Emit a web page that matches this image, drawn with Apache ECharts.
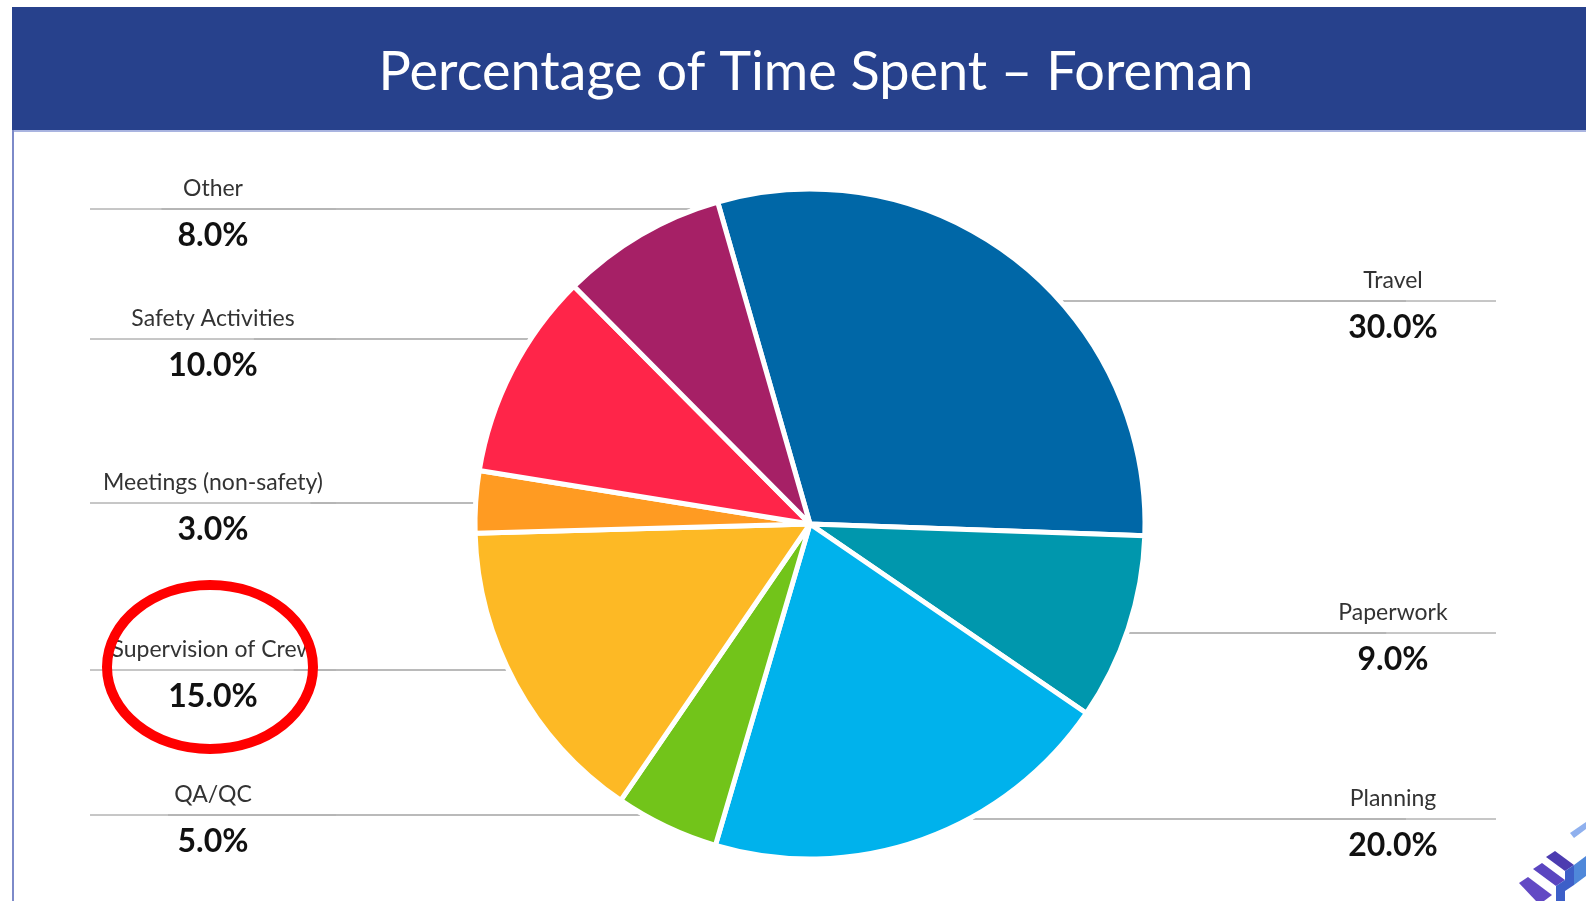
<!DOCTYPE html>
<html>
<head>
<meta charset="utf-8">
<title>Percentage of Time Spent – Foreman</title>
<script src="https://cdn.jsdelivr.net/npm/echarts@6/dist/echarts.min.js"></script>
<style>
  html, body { margin: 0; padding: 0; background: #fff; }
  #chart { width: 1586px; height: 901px; }
</style>
</head>
<body>
<div id="chart"></div>
<script>
// data
const categories = ['Travel', 'Paperwork', 'Planning', 'QA/QC', 'Supervision of Crew',
  'Meetings (non-safety)', 'Safety Activities', 'Other']
const values = [30, 9, 20, 5, 15, 3, 10, 8]
const colors = ['#0067a7', '#0097ad', '#00b2ec', '#72c41a', '#fdb925', '#ff9b22', '#ff2549', '#a62066']

// layout of the pie and label rows (y of each label's rule line)
const CX = 810
const CY = 524
const R = 335
const labelRowY = [301, 633, 819, 815, 670, 503, 339, 209]

const chart = echarts.init(document.getElementById('chart'))

const pieData = categories.map((name, i) => ({ name, value: values[i] }))

// leader line: horizontal from the label to just outside the slice
function leaderLine(params) {
  const i = params.dataIndex
  const y = labelRowY[i]
  const rect = params.labelRect
  const right = rect.x + rect.width / 2 > CX
  const dy = Math.min(Math.abs(y - CY), R)
  const outer = Math.sqrt(Math.max((R + 7) ** 2 - dy * dy, 0))
  const inner = Math.sqrt(Math.max((R + 2) ** 2 - dy * dy, 0))
  const sign = right ? 1 : -1
  const anchor = right ? rect.x : rect.x + rect.width
  return {
    y: y - 40,
    verticalAlign: 'top',
    width: right ? 206 : 246,
    labelLinePoints: [
      [CX + sign * inner, y],
      [CX + sign * outer, y],
      [anchor, y]
    ]
  }
}

const option = {
  backgroundColor: '#fff',
  title: {
    text: 'Percentage of Time Spent – Foreman',
    left: 811,
    top: 68,
    textAlign: 'center',
    textVerticalAlign: 'middle',
    textStyle: {
      color: '#fff',
      fontSize: 54,
      fontWeight: 'normal',
      fontFamily: 'Lato'
    },
    z: 10
  },
  graphic: [
    // banner
    {
      type: 'rect',
      shape: { x: 12, y: 7, width: 1574, height: 123 },
      style: { fill: '#27418c' },
      z: 0
    },
    {
      type: 'rect',
      shape: { x: 12, y: 130, width: 1574, height: 2 },
      style: { fill: '#a9b4e0' },
      z: 0
    },
    // left border
    {
      type: 'rect',
      shape: { x: 12, y: 130, width: 2, height: 771 },
      style: { fill: '#7d8ac9' },
      z: 0
    },
    // red annotation ring
    {
      type: 'ellipse',
      shape: { cx: 210, cy: 667, rx: 103, ry: 82 },
      style: { fill: null, stroke: '#ff0000', lineWidth: 10 },
      z: 100
    },
    // logo corner
    {
      type: 'group',
      z: 100,
      children: [
        { type: 'polygon', shape: { points: [[1570, 833], [1586, 822], [1586, 829], [1574, 838]] }, style: { fill: '#8fb0ee' } },
        { type: 'polygon', shape: { points: [[1546, 857], [1555, 851], [1574, 865], [1565, 871]] }, style: { fill: '#4c3cb0' } },
        { type: 'polygon', shape: { points: [[1565, 871], [1574, 865], [1574, 885], [1565, 891]] }, style: { fill: '#3d5fc8' } },
        { type: 'polygon', shape: { points: [[1533, 869], [1542, 863], [1565, 880], [1556, 886]] }, style: { fill: '#5a45c0' } },
        { type: 'polygon', shape: { points: [[1556, 886], [1565, 880], [1565, 901], [1556, 901]] }, style: { fill: '#3d5fc8' } },
        { type: 'polygon', shape: { points: [[1519, 883], [1528, 877], [1552, 895], [1544, 901], [1536, 901]] }, style: { fill: '#6249c4' } },
        { type: 'polygon', shape: { points: [[1574, 865], [1586, 856], [1586, 876], [1574, 885]] }, style: { fill: '#4f88da' } }
      ]
    }
  ],
  series: [
    {
      type: 'pie',
      center: [CX, CY],
      radius: R,
      startAngle: 106,
      clockwise: true,
      color: colors,
      data: pieData,
      z: 2,
      itemStyle: {
        borderColor: '#fff',
        borderWidth: 5
      },
      emphasis: { scale: false },
      label: {
        show: true,
        alignTo: 'edge',
        edgeDistance: 90,
        formatter: (p) => '{name|' + p.name + '}\n{hr|}\n{value|' + p.value.toFixed(1) + '%}',
        rich: {
          name: {
            fontFamily: 'Lato',
            fontSize: 23,
            color: '#333',
            lineHeight: 40,
            align: 'center'
          },
          hr: {
            width: '100%',
            height: 0,
            borderColor: '#b4b4b4',
            borderWidth: 1
          },
          value: {
            fontFamily: 'Lato',
            fontSize: 32,
            fontWeight: 'bold',
            color: '#111',
            lineHeight: 54,
            align: 'center'
          }
        }
      },
      labelLine: {
        show: true,
        length: 15,
        length2: 0,
        lineStyle: { color: '#a3a3a3', width: 1.5 }
      },
      labelLayout: leaderLine
    }
  ]
}

chart.setOption(option)
</script>
</body>
</html>
